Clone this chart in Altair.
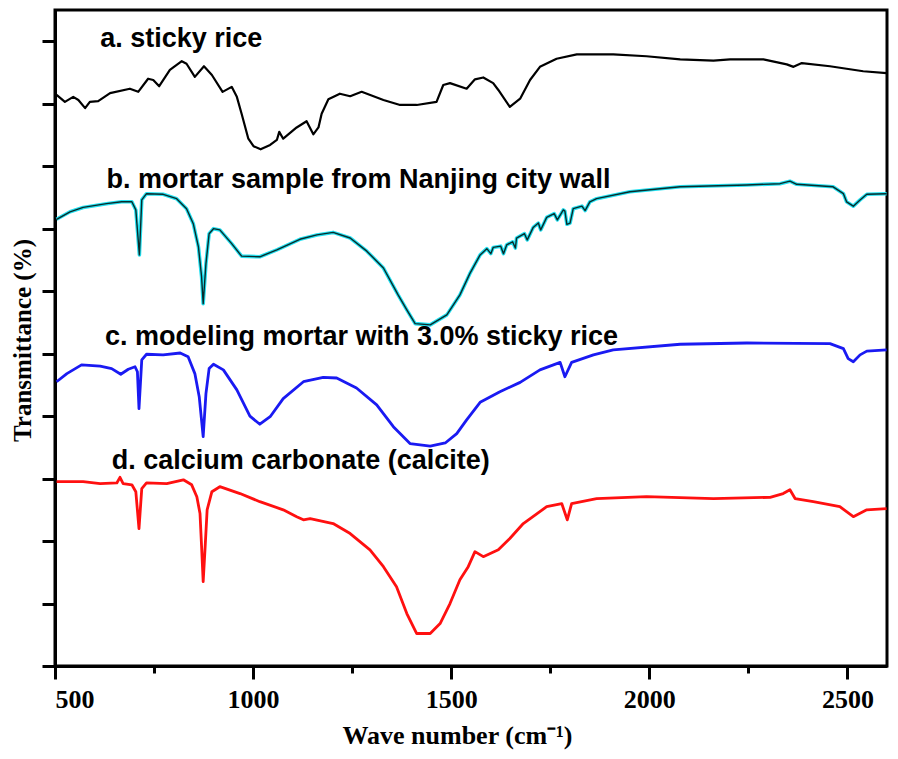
import altair as alt
import pandas as pd

# ---- data (wavenumber cm-1, offset transmittance a.u.) ----
a_wn = [504, 525, 546, 559, 576, 588, 609, 639, 689, 710, 735, 748, 763, 790, 820, 832, 853, 876, 896, 923, 946, 959, 971, 988, 1001, 1019, 1043, 1060, 1066, 1076, 1110, 1135, 1152, 1165, 1173, 1190, 1219, 1245, 1274, 1329, 1371, 1413, 1463, 1480, 1497, 1539, 1560, 1581, 1606, 1619, 1648, 1674, 1699, 1724, 1766, 1817, 1909, 1993, 2078, 2162, 2204, 2288, 2347, 2364, 2385, 2456, 2540, 2599]
a_t = [91.4, 90.3, 91.1, 90.6, 89.3, 90.3, 90.4, 91.7, 92.4, 91.9, 94.0, 93.8, 92.8, 95.4, 96.8, 96.4, 94.3, 96.0, 94.6, 91.9, 92.7, 91.1, 88.4, 84.4, 83.2, 82.7, 83.4, 84.2, 85.5, 84.4, 86.2, 87.2, 85.1, 86.2, 88.4, 90.7, 91.6, 91.2, 91.9, 90.6, 89.8, 89.8, 90.3, 93.0, 93.3, 92.4, 93.9, 94.2, 93.3, 92.2, 89.5, 90.8, 93.8, 95.9, 97.2, 97.9, 97.9, 97.6, 97.1, 96.9, 97.1, 97.1, 96.3, 95.9, 96.5, 96.0, 95.2, 94.9]

b_wn = [504, 538, 571, 630, 668, 694, 704, 713, 719, 731, 773, 807, 832, 849, 862, 870, 874, 881, 889, 900, 916, 946, 971, 1017, 1060, 1118, 1161, 1202, 1245, 1287, 1329, 1366, 1388, 1409, 1447, 1489, 1522, 1547, 1573, 1590, 1600, 1606, 1625, 1632, 1640, 1655, 1662, 1665, 1685, 1692, 1707, 1720, 1726, 1741, 1760, 1768, 1783, 1787, 1792, 1800, 1808, 1830, 1838, 1850, 1867, 1951, 2078, 2246, 2330, 2355, 2372, 2464, 2490, 2498, 2515, 2532, 2549, 2599]
b_t = [71.5, 72.7, 73.4, 74.0, 74.3, 74.3, 73.0, 65.8, 74.6, 75.6, 75.5, 74.8, 73.2, 70.8, 67.1, 62.3, 58.0, 64.4, 69.2, 70.0, 69.8, 67.6, 65.6, 65.5, 66.6, 68.3, 69.0, 69.4, 68.5, 66.4, 63.7, 59.4, 57.0, 54.8, 54.6, 56.2, 59.4, 62.8, 65.8, 66.8, 66.0, 67.0, 67.2, 66.0, 67.4, 67.9, 66.9, 68.5, 69.2, 68.2, 70.2, 70.9, 69.8, 71.8, 72.4, 71.4, 73.0, 72.8, 70.7, 70.9, 73.2, 73.6, 72.9, 74.3, 74.8, 75.9, 76.7, 77.0, 77.2, 77.6, 77.1, 76.7, 75.6, 74.3, 73.6, 74.6, 75.5, 75.6]

c_wn = [504, 530, 567, 614, 643, 666, 685, 702, 708, 712, 719, 731, 773, 816, 836, 853, 864, 874, 881, 889, 900, 925, 959, 992, 1017, 1043, 1076, 1127, 1177, 1211, 1261, 1312, 1354, 1396, 1447, 1485, 1514, 1539, 1573, 1623, 1674, 1724, 1775, 1787, 1804, 1859, 1909, 2078, 2246, 2456, 2490, 2502, 2515, 2532, 2549, 2599]
c_t = [45.5, 46.8, 48.2, 48.0, 47.6, 46.7, 47.5, 47.9, 47.1, 41.2, 49.0, 49.9, 49.8, 50.1, 49.5, 46.8, 43.1, 36.7, 43.6, 47.6, 48.3, 47.4, 44.2, 40.0, 38.7, 39.9, 42.8, 45.5, 46.2, 46.1, 44.5, 41.8, 38.3, 35.6, 35.2, 35.7, 37.2, 39.4, 42.2, 43.9, 45.4, 47.4, 48.6, 46.3, 48.6, 49.8, 50.6, 51.5, 51.7, 51.6, 50.8, 49.2, 48.7, 49.8, 50.4, 50.6]

d_wn = [504, 571, 614, 656, 664, 672, 694, 704, 712, 719, 731, 782, 824, 845, 858, 866, 870, 874, 879, 884, 896, 916, 967, 1017, 1076, 1110, 1127, 1144, 1202, 1245, 1295, 1329, 1362, 1388, 1413, 1447, 1472, 1497, 1522, 1543, 1560, 1581, 1619, 1648, 1682, 1741, 1779, 1793, 1804, 1867, 1993, 2162, 2305, 2338, 2355, 2368, 2414, 2481, 2515, 2549, 2599]
d_t = [29.5, 29.5, 29.2, 29.3, 30.2, 29.2, 29.0, 27.9, 22.0, 28.4, 29.3, 29.2, 29.8, 29.0, 27.1, 24.4, 19.1, 13.5, 19.1, 25.0, 27.9, 28.7, 27.6, 26.3, 25.0, 23.9, 23.4, 23.6, 22.8, 21.2, 18.6, 15.9, 12.7, 8.4, 5.2, 5.2, 6.8, 10.0, 13.8, 15.9, 18.3, 17.5, 18.6, 20.4, 22.8, 25.5, 26.0, 23.4, 26.0, 26.8, 27.1, 26.8, 27.0, 27.6, 28.2, 26.8, 26.3, 25.5, 23.9, 25.0, 25.2]

label_text = ["a. sticky rice", "b. mortar sample from Nanjing city wall",
              "c. modeling mortar with 3.0% sticky rice", "d. calcium carbonate (calcite)"]
label_wn = [614, 630, 626, 643]
label_t = [99.1, 76.5, 51.4, 31.6]

x_ticks = [500, 750, 1000, 1250, 1500, 1750, 2000, 2250, 2500]
y_ticks = list(range(0, 106, 5))

# ---- build tables ----
def frame(name, wn, t):
    return pd.DataFrame({"series": name, "wn": wn, "t": t})

df = pd.concat([frame("a", a_wn, a_t), frame("b", b_wn, b_t),
                frame("c", c_wn, c_t), frame("d", d_wn, d_t)], ignore_index=True)
labels = pd.DataFrame({"label": label_text, "wn": label_wn, "t": label_t})

x_enc = alt.X("wn:Q",
              scale=alt.Scale(domain=[500, 2600], nice=False, zero=False),
              axis=alt.Axis(values=x_ticks,
                            labelExpr="datum.value % 500 == 0 ? datum.label : ''",
                            tickSize={"condition": {"test": "datum.value % 500 == 0", "value": 13}, "value": 7},
                            format="d",
                            title="Wave number (cm⁻¹)",
                            titleX=402, titleY=77, titleBaseline="alphabetic",
                            titleFontSize=26,
                            labelPadding=7, grid=False))
y_enc = alt.Y("t:Q",
              scale=alt.Scale(domain=[0, 105], nice=False, zero=False),
              axis=alt.Axis(values=y_ticks, labels=False, tickSize=13, grid=False,
                            title="Transmittance (%)", titleX=-33, titleY=330,
                            titleFontSize=25,
                            titleAngle=270, titleBaseline="middle", titleAlign="center"))

base = alt.Chart(df)

def line(series, color, width):
    return base.transform_filter(alt.datum.series == series).mark_line(
        color=color, strokeWidth=width, strokeJoin="round").encode(x=x_enc, y=y_enc)

layers = [
    line("a", "#000000", 2.2),
    line("b", "#22e0f0", 3.6),
    line("b", "#0a2a2a", 1.4),
    line("c", "#1a1af2", 2.8),
    line("d", "#ff1010", 2.8),
]

text = alt.Chart(labels).mark_text(
    align="left", baseline="alphabetic", font="Liberation Sans",
    fontWeight="bold", fontSize=27, color="#000000").encode(
    x=alt.X("wn:Q"), y=alt.Y("t:Q"), text="label:N")

chart = alt.layer(*layers, text).properties(
    width=832, height=656,
    background="white",
    autosize=alt.AutoSizeParams(type="none"),
    padding={"left": 47, "top": 2, "right": 3, "bottom": 85},
).configure_view(
    stroke="#000000", strokeWidth=3
).configure_axis(
    domainColor="#000000", domainWidth=3, tickColor="#000000", tickWidth=3,
    labelFont="Liberation Serif", labelFontWeight="bold", labelFontSize=26,
    labelColor="#000000",
    titleFont="Liberation Serif", titleFontWeight="bold",
    titleColor="#000000",
)

chart.save("out.html", embed_options={"renderer": "svg", "actions": False})
